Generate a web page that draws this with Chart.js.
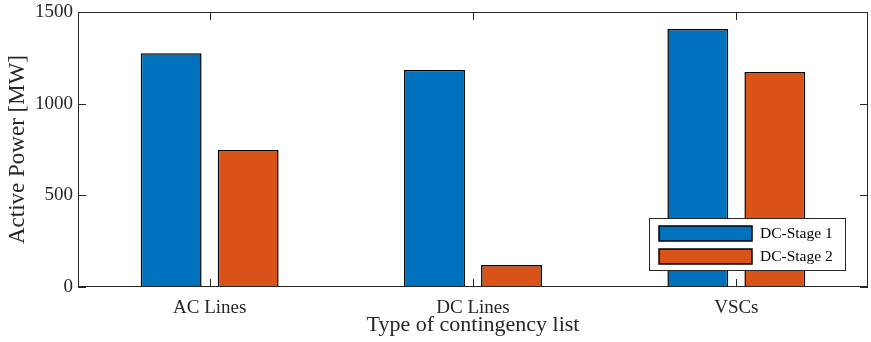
<!DOCTYPE html>
<html lang="en">
<head>
    <meta charset="UTF-8" />
    <title>Active Power per contingency list</title>
    <script src="https://cdn.jsdelivr.net/npm/chart.js"></script>
    <style>
        body {
            margin: 0;
            background: white;
        }
        .chart-box {
            width: 871px;
            height: 342px;
        }
    </style>
</head>
<body>
<div class="chart-box">
    <canvas id="barChart" width="871" height="342"></canvas>
</div>
<script>
    const categories = ['AC Lines', 'DC Lines', 'VSCs'];
    const stage1 = [1275, 1183, 1407];
    const stage2 = [747, 120, 1173];
    const yTicks = [0, 500, 1000, 1500];

    const FONT = "'Liberation Serif', 'Times New Roman', serif";
    const AXIS = '#262626';

    // MATLAB-style box with inward ticks plus a legend inside the axes
    const matlabBox = {
        id: 'matlabBox',
        afterDraw(chart) {
            const ctx = chart.ctx;
            const a = chart.chartArea;
            const x = chart.scales.x;
            const y = chart.scales.y;
            ctx.save();
            ctx.strokeStyle = AXIS;
            ctx.lineWidth = 1;
            ctx.beginPath();
            yTicks.forEach(v => {
                const py = Math.round(y.getPixelForValue(v)) + 0.5;
                ctx.moveTo(a.left, py); ctx.lineTo(a.left + 8, py);
                ctx.moveTo(a.right, py); ctx.lineTo(a.right - 8, py);
            });
            categories.forEach((c, i) => {
                const px = Math.round(x.getPixelForValue(i)) + 0.5;
                ctx.moveTo(px, a.bottom); ctx.lineTo(px, a.bottom - 8);
                ctx.moveTo(px, a.top); ctx.lineTo(px, a.top + 8);
            });
            ctx.stroke();
            ctx.strokeRect(a.left + 0.5, a.top + 0.5, a.right - a.left - 1, a.bottom - a.top - 1);

            // legend
            const lx = 649, ly = 218, lw = 196, lh = 52;
            ctx.fillStyle = 'white';
            ctx.fillRect(lx, ly, lw, lh);
            ctx.strokeRect(lx + 0.5, ly + 0.5, lw, lh);
            ctx.font = '15.5px ' + FONT;
            ctx.textBaseline = 'middle';
            chart.data.datasets.forEach((ds, i) => {
                const ry = ly + 15 + i * 23;
                ctx.fillStyle = ds.backgroundColor;
                ctx.fillRect(lx + 10, ry - 7, 93, 15);
                ctx.lineWidth = 1.5;
                ctx.strokeStyle = '#000';
                ctx.strokeRect(lx + 10, ry - 7, 93, 15);
                ctx.fillStyle = '#000';
                ctx.fillText(ds.label, lx + 111, ry + 1);
            });
            ctx.restore();
        }
    };

    new Chart(document.getElementById('barChart').getContext('2d'), {
        type: 'bar',
        data: {
            labels: categories,
            datasets: [
                {
                    label: 'DC-Stage 1',
                    data: stage1,
                    backgroundColor: '#0072BD',
                    borderColor: '#000',
                    borderWidth: 1.5
                },
                {
                    label: 'DC-Stage 2',
                    data: stage2,
                    backgroundColor: '#D95319',
                    borderColor: '#000',
                    borderWidth: 1.5
                }
            ]
        },
        options: {
            responsive: false,
            animation: false,
            categoryPercentage: 0.585,
            barPercentage: 0.79,
            layout: { padding: { top: 12, right: 3, left: 0, bottom: 0 } },
            plugins: {
                legend: { display: false },
                tooltip: { enabled: false }
            },
            scales: {
                x: {
                    grid: { display: false, drawTicks: false },
                    border: { display: false },
                    ticks: {
                        color: '#262626',
                        font: { family: FONT, size: 19 },
                        padding: 10
                    },
                    title: {
                        display: true,
                        text: 'Type of contingency list',
                        color: '#262626',
                        font: { family: FONT, size: 22 },
                        padding: { top: 0 }
                    },
                    afterFit(scale) {
                        scale.height = 55;
                        scale.paddingLeft = 0;
                        scale.paddingRight = 0;
                    }
                },
                y: {
                    min: 0,
                    max: 1500,
                    afterBuildTicks(scale) {
                        scale.ticks = yTicks.map(v => ({ value: v }));
                    },
                    grid: { display: false, drawTicks: false },
                    border: { display: false },
                    ticks: {
                        color: '#262626',
                        font: { family: FONT, size: 19 },
                        padding: 5,
                        callback: v => String(v)
                    },
                    title: {
                        display: true,
                        text: 'Active Power [MW]',
                        color: '#262626',
                        font: { family: FONT, size: 23 },
                        padding: { bottom: 2 }
                    },
                    afterFit(scale) {
                        scale.width = 78;
                        scale.paddingTop = 0;
                        scale.paddingBottom = 0;
                    }
                }
            }
        },
        plugins: [matlabBox]
    });
</script>
</body>
</html>
